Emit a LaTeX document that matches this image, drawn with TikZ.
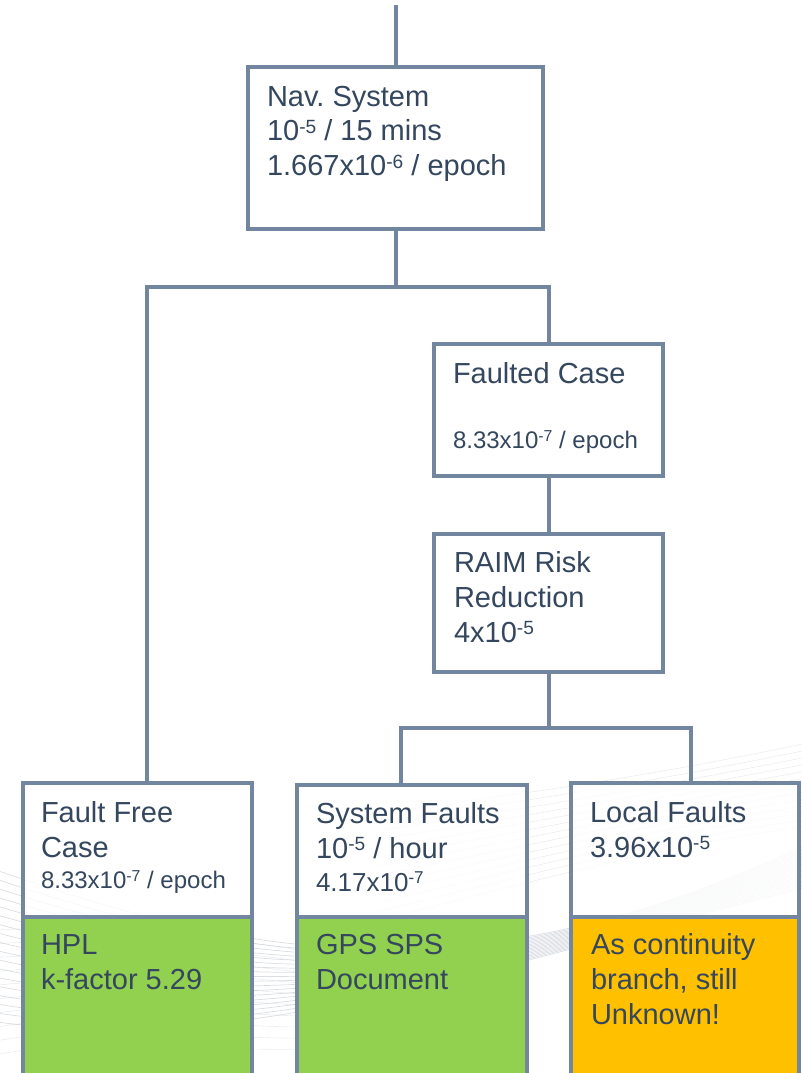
\documentclass[tikz,border=0pt]{standalone}
\usepackage{fontspec}
\setmainfont{Liberation Sans}

\definecolor{edge}{RGB}{114,134,160}
\definecolor{ink}{RGB}{52,71,94}
\definecolor{leaf}{RGB}{146,208,80}
\definecolor{amber}{RGB}{255,192,0}
\definecolor{mesh}{RGB}{188,194,203}

% text sizes used in the boxes
\newcommand\mainsz{\fontsize{29}{35}\selectfont}
\newcommand\midsz{\fontsize{26}{33}\selectfont}
\newcommand\smallsz{\fontsize{24}{31}\selectfont}
% exponent: smaller figures, raised to cap height
\makeatletter
\newcommand\sx[1]{\raisebox{0.27em}{\fontsize{\fpeval{0.66*\f@size}}{1}\selectfont #1}}
\makeatother
% one line of a stacked label, and the stack itself (baseline = first line)
\newcommand\row[1]{\hbox{#1}}
\newcommand\textstack[1]{\vtop{\frenchspacing\baselineskip=35pt\lineskiplimit=-100pt\lineskip=0pt #1}}

\tikzset{
  box/.style={draw=edge, line width=4.1pt, inner sep=0pt, outer sep=0pt,
              anchor=north west, rectangle},
  headbox/.style={box, fill=white, fill opacity=0.8},
  wire/.style={draw=edge, line width=4pt},
  label/.style={anchor=base west, inner sep=0pt, outer sep=0pt, text=ink, font=\mainsz},
  strand/.style={draw=mesh, line width=0.7pt, opacity=0.55},
  faint/.style={draw=mesh, line width=0.6pt, opacity=0.3},
}

\begin{document}
\begin{tikzpicture}[x=1pt, y=-1pt]
\useasboundingbox (0,0) rectangle (802,1073);
\clip (0,0) rectangle (802,1073);

% background mesh ribbon
\foreach \i in {0,...,17} {
  \draw[strand] (-10,{868+9*\i}) .. controls (240,{955+6*\i}) and (470,{1005-2*\i}) .. (812,{842+2.6*\i});
}
\foreach \j in {0,...,12} {
  \draw[faint] (380,{812+9*\j}) .. controls (560,{790+7*\j}) and (680,{770+6*\j}) .. (812,{742+7*\j});
}
\foreach \k in {0,...,9} {
  \draw[faint] (-10,{930+14*\k}) .. controls (100,{925+12*\k}) and (200,{935+13*\k}) .. (300,{950+11*\k});
}

% boxes
\node[headbox, minimum width=295pt, minimum height=162pt] (nav) at (248,67) {};
\node[headbox, minimum width=229pt, minimum height=132pt] (fc) at (434,344) {};
\node[headbox, minimum width=229pt, minimum height=138pt] (raim) at (434,534) {};

\node[headbox, minimum width=229pt, minimum height=134pt] (ff) at (23,783) {};
\node[box, fill=leaf, minimum width=229pt, minimum height=180pt] (ffb) at (23,917) {};
\node[headbox, minimum width=230pt, minimum height=132pt] (sf) at (297,785) {};
\node[box, fill=leaf, minimum width=230pt, minimum height=180pt] (sfb) at (297,917) {};
\node[headbox, minimum width=228pt, minimum height=134pt] (lf) at (571,783) {};
\node[box, fill=amber, minimum width=228pt, minimum height=180pt] (lfb) at (571,917) {};

% connectors
\coordinate (top) at (395.5,5);
\coordinate (busA) at (395.5,287);
\coordinate (ffin) at (147,783);
\coordinate (busB) at (548.5,728);
\coordinate (sfin) at (401,785);
\coordinate (lfin) at (691,783);

\draw[wire] (top) -- (nav.north);
\draw[wire] (nav.south) -- (busA);
\draw[wire] (ffin) |- (busA) -| (fc.north);
\draw[wire] (fc.south) -- (raim.north);
\draw[wire] (raim.south) -- (busB);
\draw[wire] (sfin) |- (busB) -| (lfin);

% labels
\node[label] (navt) at (267,106) {\textstack{%
  \row{\mainsz Nav. System}
  \row{\mainsz 10\sx{-5} / 15 mins}
  \row{\mainsz 1.667x10\sx{-6} / epoch}}};

\node[label] (fct) at (453,383) {\textstack{%
  \row{\mainsz Faulted Case}\vskip30pt
  \row{\smallsz 8.33x10\sx{-7} / epoch}}};

\node[label] (raimt) at (454,572) {\textstack{%
  \row{\mainsz RAIM Risk}
  \row{\mainsz Reduction}
  \row{\mainsz 4x10\sx{-5}}}};

\node[label] (fft) at (41,822) {\textstack{%
  \row{\mainsz Fault Free}
  \row{\mainsz Case}\vskip-4pt
  \row{\smallsz 8.33x10\sx{-7} / epoch}}};

\node[label] (sft) at (316,823) {\textstack{%
  \row{\mainsz System Faults}
  \row{\mainsz 10\sx{-5} / hour}\vskip-2pt
  \row{\midsz 4.17x10\sx{-7}}}};

\node[label] (lft) at (590,822) {\textstack{%
  \row{\mainsz Local Faults}
  \row{\mainsz 3.96x10\sx{-5}}}};

\node[label] (ffbt) at (41,954) {\textstack{%
  \row{\mainsz HPL}
  \row{\mainsz k-factor 5.29}}};

\node[label] (sfbt) at (316,954) {\textstack{%
  \row{\mainsz GPS SPS}
  \row{\mainsz Document}}};

\node[label] (lfbt) at (591,954) {\textstack{%
  \row{\mainsz As continuity}
  \row{\mainsz branch, still}
  \row{\mainsz Unknown!}}};
\end{tikzpicture}
\end{document}
